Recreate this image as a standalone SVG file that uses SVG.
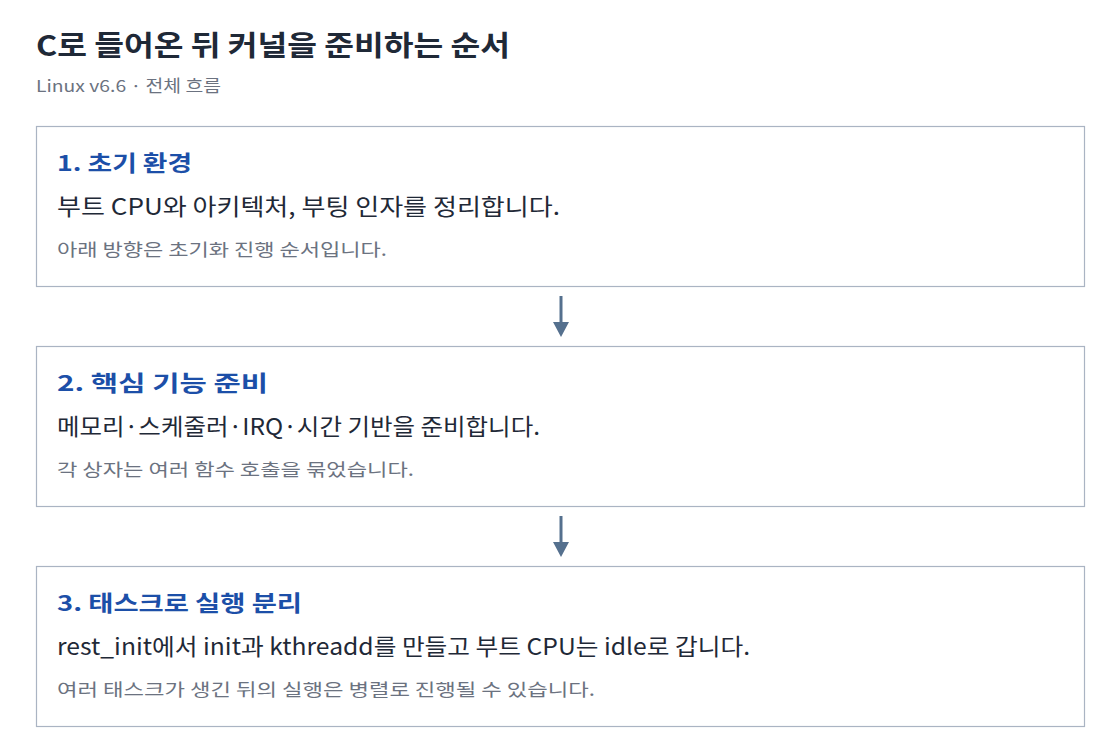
<svg xmlns="http://www.w3.org/2000/svg" width="1120" height="754" viewBox="0 0 1120 754">
<defs>
<style>
text{font-family:"Noto Sans CJK KR","Noto Sans",sans-serif}
.title{font-size:28px;font-weight:700;fill:#1f2937}
.sub{font-size:16.5px;fill:#6b7280}
.box{fill:#ffffff;stroke:#aab4c3;stroke-width:1.2}
.h{font-size:21.5px;font-weight:700;fill:#1c4fa8}
.b{font-size:23px;fill:#1f2937}
.n{font-size:17.5px;fill:#6b7280}
.edge{stroke:#55708e;stroke-width:3;fill:none}
</style>
</defs>
<rect width="1120" height="754" fill="#ffffff"/>
<text class="title" x="36" y="56" textLength="474" lengthAdjust="spacingAndGlyphs">C로 들어온 뒤 커널을 준비하는 순서</text>
<text class="sub" x="36" y="92" textLength="185" lengthAdjust="spacingAndGlyphs">Linux v6.6 · 전체 흐름</text>
<g id="edges">
<line class="edge" x1="561" y1="296" x2="561" y2="322"/>
<path d="M553,322 L569,322 L561,337 Z" fill="#55708e"/>
<line class="edge" x1="561" y1="516" x2="561" y2="542"/>
<path d="M553,542 L569,542 L561,557 Z" fill="#55708e"/>
</g>
<g id="n1">
<rect class="box" x="36.5" y="126.5" width="1048" height="160"/>
<text class="h" x="57" y="171" textLength="135" lengthAdjust="spacingAndGlyphs">1. 초기 환경</text>
<text class="b" x="57" y="215" textLength="503" lengthAdjust="spacingAndGlyphs">부트 CPU와 아키텍처, 부팅 인자를 정리합니다.</text>
<text class="n" x="57" y="256" textLength="330" lengthAdjust="spacingAndGlyphs">아래 방향은 초기화 진행 순서입니다.</text>
</g>
<g id="n2">
<rect class="box" x="36.5" y="346.5" width="1048" height="160"/>
<text class="h" x="57" y="391" textLength="211" lengthAdjust="spacingAndGlyphs">2. 핵심 기능 준비</text>
<text class="b" x="57" y="435" textLength="483" lengthAdjust="spacingAndGlyphs">메모리·스케줄러·IRQ·시간 기반을 준비합니다.</text>
<text class="n" x="57" y="476" textLength="357" lengthAdjust="spacingAndGlyphs">각 상자는 여러 함수 호출을 묶었습니다.</text>
</g>
<g id="n3">
<rect class="box" x="36.5" y="566.5" width="1048" height="160"/>
<text class="h" x="57" y="611" textLength="245" lengthAdjust="spacingAndGlyphs">3. 태스크로 실행 분리</text>
<text class="b" x="57" y="655" textLength="693" lengthAdjust="spacingAndGlyphs">rest_init에서 init과 kthreadd를 만들고 부트 CPU는 idle로 갑니다.</text>
<text class="n" x="57" y="696" textLength="538" lengthAdjust="spacingAndGlyphs">여러 태스크가 생긴 뒤의 실행은 병렬로 진행될 수 있습니다.</text>
</g>
</svg>
